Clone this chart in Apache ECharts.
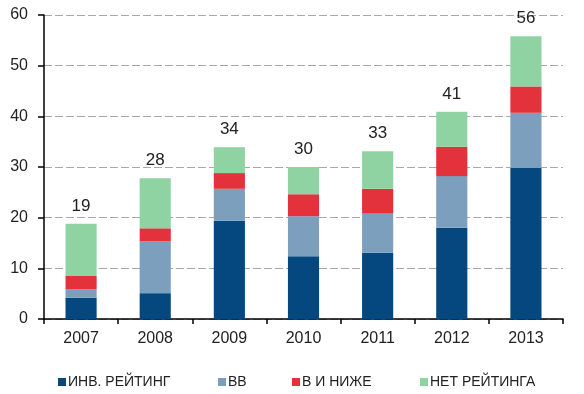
<!DOCTYPE html>
<html>
<head>
<meta charset="utf-8">
<script src="https://cdn.jsdelivr.net/npm/echarts@6/dist/echarts.min.js"></script>
<style>
  html, body { margin: 0; padding: 0; background: #fff; }
  #chart { width: 584px; height: 394px; }
</style>
</head>
<body>
<div id="chart"></div>
<script>
var years = ['2007', '2008', '2009', '2010', '2011', '2012', '2013'];
var invRating = [4.2, 5.1, 19.4, 12.4, 13.1, 18.0, 29.8];
var bb = [1.7, 10.2, 6.3, 7.9, 7.8, 10.2, 10.9];
var bAndBelow = [2.6, 2.6, 3.1, 4.3, 4.8, 5.8, 5.2];
var noRating = [10.3, 9.9, 5.1, 5.4, 7.4, 6.9, 9.9];
var totals = [19, 28, 34, 30, 33, 41, 56];
var seriesNames = ['ИНВ. РЕЙТИНГ', 'BB', 'В И НИЖЕ', 'НЕТ РЕЙТИНГА'];

var font = '"Liberation Sans Narrow", "Liberation Sans", Arial, sans-serif';

var myChart = echarts.init(document.getElementById('chart'));

function bar(name, data, color) {
    return {
        name: name,
        type: 'bar',
        stack: 'total',
        barWidth: '42%',
        data: data,
        itemStyle: { color: color },
        emphasis: { disabled: true }
    };
}

var last = bar(seriesNames[3], noRating, '#8fd3a3');
last.label = {
    show: true,
    position: 'top',
    distance: 9,
    color: '#222',
    fontFamily: font,
    fontSize: 17,
    formatter: function (p) {
        return totals[p.dataIndex];
    }
};

// one legend per item so each sits where the original has it
var legendLeft = [53, 213, 287, 415];
var legends = [];
for (var i = 0; i < seriesNames.length; i++) {
    legends.push({
        top: 370,
        left: legendLeft[i],
        itemWidth: 8,
        itemHeight: 8,
        icon: 'rect',
        textStyle: { fontFamily: font, fontSize: 14, color: '#222', padding: [0, 0, 0, -3] },
        data: [seriesNames[i]]
    });
}

var option = {
    animation: false,
    textStyle: { fontFamily: font },
    grid: {
        left: 44,
        right: 21,
        top: 15,
        bottom: 75
    },
    legend: legends,
    xAxis: {
        type: 'category',
        data: years,
        axisLine: { lineStyle: { color: '#000', width: 1.5 } },
        axisTick: { show: true, length: 5, lineStyle: { color: '#000', width: 1.5 } },
        axisLabel: { color: '#222', fontSize: 16, fontFamily: font, margin: 12 }
    },
    yAxis: {
        type: 'value',
        min: 0,
        max: 60,
        interval: 10,
        axisLine: { show: true, lineStyle: { color: '#000', width: 1.5 } },
        axisTick: { show: true, length: 6, lineStyle: { color: '#000', width: 1.5 } },
        axisLabel: { color: '#222', fontSize: 16, fontFamily: font, margin: 16 },
        splitLine: {
            show: true,
            lineStyle: { color: '#a8a8a8', type: [8, 3], width: 1 }
        }
    },
    series: [
        bar(seriesNames[0], invRating, '#05477f'),
        bar(seriesNames[1], bb, '#7c9fbd'),
        bar(seriesNames[2], bAndBelow, '#e4323d'),
        last
    ]
};

myChart.setOption(option);
</script>
</body>
</html>
